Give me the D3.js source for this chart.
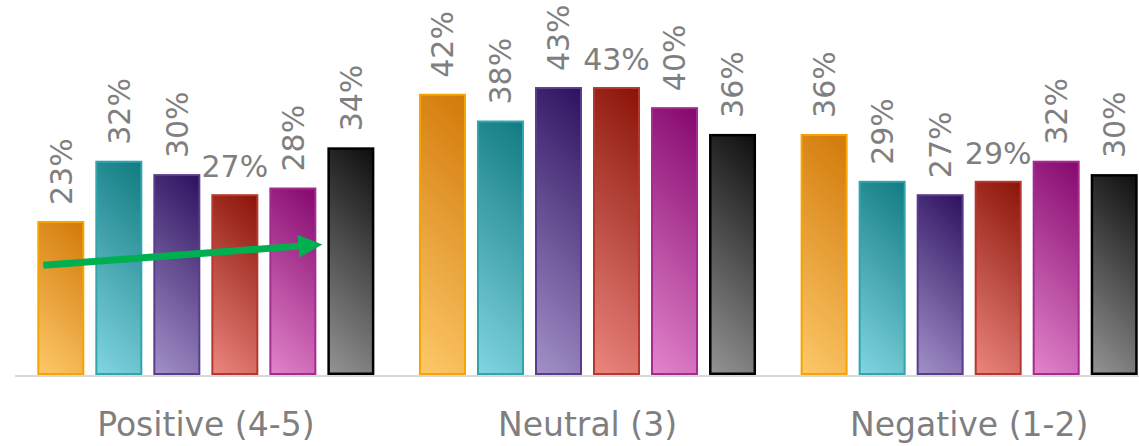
<!DOCTYPE html>
<html>
<head>
<meta charset="utf-8">
<script src="https://cdn.jsdelivr.net/npm/d3@7"></script>
<style>
  html, body { margin: 0; padding: 0; background: #ffffff; }
  svg { display: block; }
</style>
</head>
<body>
<svg id="chart" width="1139" height="446"></svg>
<script>
// Rating buckets along the x axis
const categories = ["Positive (4-5)", "Neutral (3)", "Negative (1-2)"];
// Six respondent groups per bucket
const seriesKeys = ["A", "B", "C", "D", "E", "F"];
// Share of responses, one array per group, in bucket order
const seriesA = [0.23, 0.42, 0.36];
const seriesB = [0.32, 0.38, 0.29];
const seriesC = [0.30, 0.43, 0.27];
const seriesD = [0.27, 0.43, 0.29];
const seriesE = [0.28, 0.40, 0.32];
const seriesF = [0.34, 0.36, 0.30];
const seriesValues = [seriesA, seriesB, seriesC, seriesD, seriesE, seriesF];
// Group whose value labels are written horizontally
const flatLabelSeries = ["D"];
// Trend arrow across the positive bucket (value units)
const trend = { category: "Positive (4-5)", from: { series: "A", value: 0.164 }, to: { series: "F", value: 0.195 } };

// Fill ramps (dark top-right to light bottom-left) and outlines
const palette = {
  A: { dark: "#d27808", light: "#fdc96a", stroke: "#f7a400", width: 2 },
  B: { dark: "#107a81", light: "#82d6e1", stroke: "#32a4ad", width: 2 },
  C: { dark: "#2c105f", light: "#a392c9", stroke: "#5b3b8d", width: 2 },
  D: { dark: "#8a1206", light: "#ec8780", stroke: "#b5372d", width: 2 },
  E: { dark: "#84066d", light: "#e386cc", stroke: "#a42c91", width: 2 },
  F: { dark: "#0d0d0d", light: "#959595", stroke: "#000000", width: 2.5 }
};

const rows = categories.map((c, i) => ({
  category: c,
  values: seriesKeys.map((k, j) => ({ key: k, value: seriesValues[j][i] }))
}));

const svg = d3.select("#chart");
const baseY = 375;

const x0 = d3.scaleBand().domain(categories).range([15, 1160])
  .paddingInner(0.088).paddingOuter(0.044);
const x1 = d3.scaleBand().domain(seriesKeys).range([0, x0.bandwidth()])
  .paddingInner(0.19).paddingOuter(0.095);
const y = d3.scaleLinear().domain([0, 0.56]).range([baseY, 0]);

const defs = svg.append("defs");
const fmt = d3.format(".0%");
const labelColor = "#7f7f7f";
const fontFamily = "DejaVu Sans";

const groups = svg.append("g").selectAll("g")
  .data(rows).join("g")
  .attr("transform", d => `translate(${x0(d.category)},0)`);

groups.each(function (row, gi) {
  const g = d3.select(this);
  row.values.forEach(d => {
    const bx = x1(d.key), bw = x1.bandwidth();
    const top = y(d.value), h = baseY - top;
    const p = palette[d.key];
    const id = `grad-${gi}-${d.key}`;
    // 45-degree ramp anchored at the bar's top-right corner (group-local coordinates)
    const span = (bw + h) / 2;
    const grad = defs.append("linearGradient").attr("id", id)
      .attr("gradientUnits", "userSpaceOnUse")
      .attr("x1", bx + bw).attr("y1", top)
      .attr("x2", bx + bw - span).attr("y2", top + span);
    grad.append("stop").attr("offset", "0%").attr("stop-color", p.dark);
    grad.append("stop").attr("offset", "100%").attr("stop-color", p.light);

    g.append("rect")
      .attr("x", bx + p.width / 2).attr("y", top + p.width / 2)
      .attr("width", bw - p.width).attr("height", h - p.width)
      .attr("fill", `url(#${id})`)
      .attr("stroke", p.stroke).attr("stroke-width", p.width);

    const cx = bx + bw / 2;
    if (flatLabelSeries.includes(d.key)) {
      g.append("text")
        .attr("x", cx).attr("y", top - 17)
        .attr("text-anchor", "middle")
        .attr("font-family", fontFamily).attr("font-size", 30)
        .attr("fill", labelColor)
        .text(fmt(d.value));
    } else {
      g.append("text")
        .attr("transform", `translate(${cx},${top - 16}) rotate(-90)`)
        .attr("dy", "0.36em")
        .attr("text-anchor", "start")
        .attr("font-family", fontFamily).attr("font-size", 30)
        .attr("fill", labelColor)
        .text(fmt(d.value));
    }
  });
});

// Category axis: baseline rule and bucket names
svg.append("line")
  .attr("x1", 15).attr("x2", 1139)
  .attr("y1", baseY + 1).attr("y2", baseY + 1)
  .attr("stroke", "#d9d9d9").attr("stroke-width", 2);

const xAxis = d3.axisBottom(x0).tickSize(0).tickPadding(0);
const axisG = svg.append("g").attr("transform", `translate(0,${baseY})`).call(xAxis);
axisG.select(".domain").remove();
axisG.selectAll("text")
  .attr("y", 0).attr("dy", 0)
  .attr("transform", "translate(0,61)")
  .attr("font-family", fontFamily).attr("font-size", 33)
  .attr("fill", labelColor);

// Green trend arrow
const tg = x0(trend.category);
const ax0 = tg + x1(trend.from.series) + 6;
const ay0 = y(trend.from.value);
const ax1 = tg + x1(trend.to.series) - 5;
const ay1 = y(trend.to.value);
const ang = Math.atan2(ay1 - ay0, ax1 - ax0);
const headLen = 24, headHalf = 11.5;
const bxh = ax1 - headLen * Math.cos(ang), byh = ay1 - headLen * Math.sin(ang);
svg.append("line")
  .attr("x1", ax0).attr("y1", ay0).attr("x2", bxh + Math.cos(ang)).attr("y2", byh + Math.sin(ang))
  .attr("stroke", "#00b050").attr("stroke-width", 7);
svg.append("path")
  .attr("d", d3.line()([
    [ax1, ay1],
    [bxh - headHalf * Math.sin(ang), byh + headHalf * Math.cos(ang)],
    [bxh + headHalf * Math.sin(ang), byh - headHalf * Math.cos(ang)]
  ]) + "Z")
  .attr("fill", "#00b050");
</script>
</body>
</html>
